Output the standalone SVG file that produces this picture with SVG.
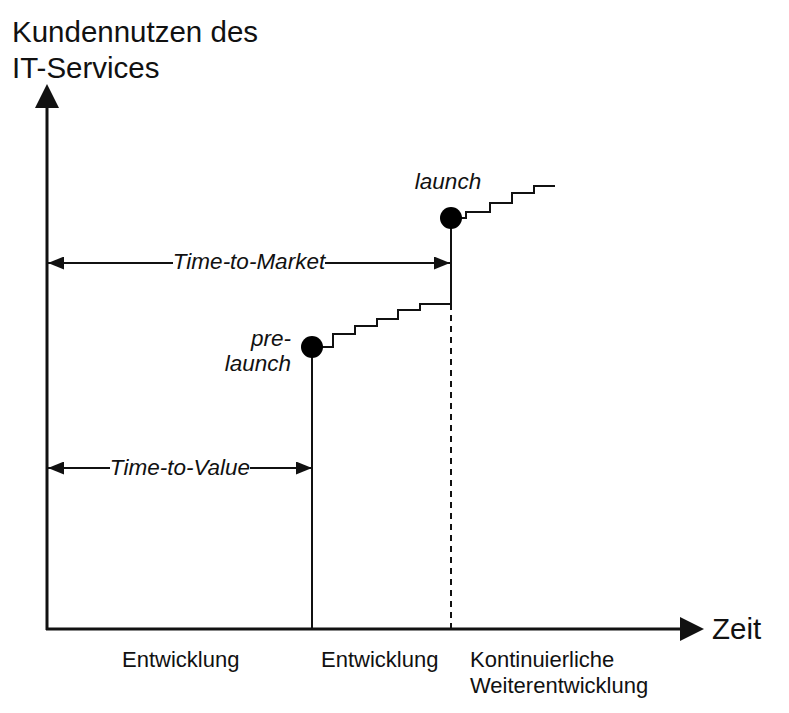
<svg xmlns="http://www.w3.org/2000/svg" width="789" height="713" viewBox="0 0 789 713">
<style>
text{font-family:"Liberation Sans",Arial,sans-serif;fill:#111}
.t{font-size:29.5px}
.l{font-size:22px}
.i{font-size:22.5px;font-style:italic}
.ln{stroke:#111;stroke-width:2;fill:none}
.ax{stroke:#111;stroke-width:3;fill:none}
</style>
<defs>
<marker id="ah" viewBox="0 0 16 13" refX="16" refY="6.5" markerWidth="16" markerHeight="13" markerUnits="userSpaceOnUse" orient="auto-start-reverse">
<path d="M0,0 L16,6.5 L0,13 Z" fill="#111"/>
</marker>
</defs>
<rect width="789" height="713" fill="#fff"/>
<g id="axes">
<line class="ax" x1="47" y1="630" x2="47" y2="106"/>
<path d="M35,108 L47,84 L59,108 Z" fill="#111"/>
<line class="ax" x1="46" y1="629" x2="682" y2="629"/>
<path d="M680,617 L704,629 L680,641 Z" fill="#111"/>
</g>
<g id="labels">
<text class="t" x="12" y="42">Kundennutzen des</text>
<text class="t" x="12" y="78">IT-Services</text>
<text class="t" x="712" y="639">Zeit</text>
<text class="l" x="122" y="667">Entwicklung</text>
<text class="l" x="321" y="667">Entwicklung</text>
<text class="l" x="470" y="667">Kontinuierliche</text>
<text class="l" x="470" y="693">Weiterentwicklung</text>
</g>
<g id="connectors">
<line class="ln" x1="48" y1="263" x2="173" y2="263" marker-start="url(#ah)"/>
<line class="ln" x1="325" y1="263" x2="450" y2="263" marker-end="url(#ah)"/>
<line class="ln" x1="48" y1="468" x2="110" y2="468" marker-start="url(#ah)"/>
<line class="ln" x1="250" y1="468" x2="312" y2="468" marker-end="url(#ah)"/>
<line class="ln" x1="312" y1="348" x2="312" y2="629"/>
<line class="ln" x1="451" y1="218" x2="451" y2="304"/>
<line class="ln" x1="451" y1="304" x2="451" y2="629" stroke-dasharray="6,5"/>
<polyline class="ln" points="312,347 333,347 333,334 355,334 355,326 377,326 377,319 398,319 398,310 420,310 420,304 451,304"/>
<polyline class="ln" points="451,218 466,218 466,212 490,212 490,203 512,203 512,193 534,193 534,186 555,186"/>
</g>
<g id="prelaunch">
<circle cx="312" cy="347" r="11" fill="#000"/>
<text class="i" x="291" y="346" text-anchor="end">pre-</text>
<text class="i" x="291" y="371" text-anchor="end">launch</text>
</g>
<g id="launch">
<circle cx="451" cy="218" r="11" fill="#000"/>
<text class="i" x="448" y="189" text-anchor="middle">launch</text>
</g>
<g id="dims">
<text class="i" x="249" y="269" text-anchor="middle">Time-to-Market</text>
<text class="i" x="180" y="475" text-anchor="middle">Time-to-Value</text>
</g>
</svg>
